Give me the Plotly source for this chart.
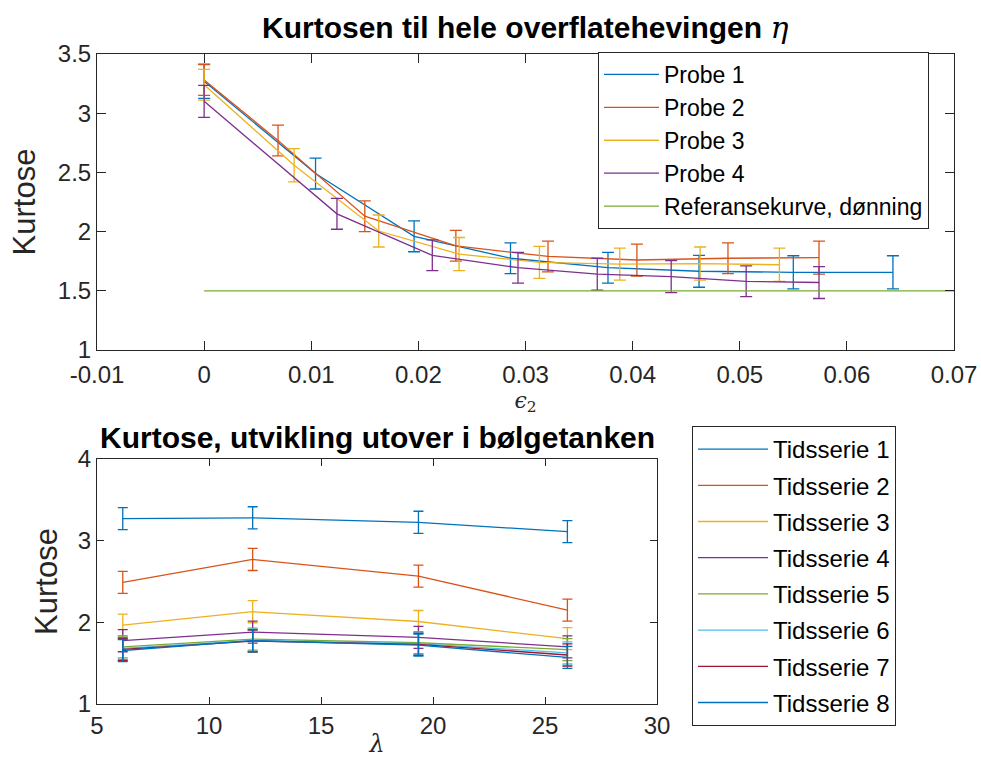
import plotly.graph_objects as go

# ---------------- Data: top panel (kurtosis vs epsilon_2) ----------------
probe_names = ["Probe 1", "Probe 2", "Probe 3", "Probe 4"]
probe1_x = [0, 0.0104, 0.0196, 0.0286, 0.0377, 0.0462, 0.0550, 0.0643]
probe1_y = [3.27, 2.49, 1.96, 1.775, 1.695, 1.665, 1.656, 1.656]
probe1_e = [0.145, 0.13, 0.13, 0.13, 0.13, 0.135, 0.14, 0.14]

probe2_x = [0, 0.0069, 0.0150, 0.0235, 0.0321, 0.0404, 0.0489, 0.0574]
probe2_y = [3.28, 2.77, 2.13, 1.88, 1.79, 1.76, 1.775, 1.78]
probe2_e = [0.13, 0.13, 0.13, 0.13, 0.13, 0.135, 0.13, 0.14]

probe3_x = [0, 0.0084, 0.0163, 0.0238, 0.0313, 0.0388, 0.0463, 0.0537]
probe3_y = [3.24, 2.56, 2.005, 1.81, 1.74, 1.725, 1.73, 1.72]
probe3_e = [0.13, 0.14, 0.135, 0.14, 0.135, 0.135, 0.14, 0.14]

probe4_x = [0, 0.0124, 0.0213, 0.0293, 0.0367, 0.0436, 0.0506, 0.0574]
probe4_y = [3.10, 2.15, 1.80, 1.695, 1.64, 1.62, 1.58, 1.57]
probe4_e = [0.135, 0.13, 0.13, 0.13, 0.135, 0.135, 0.13, 0.135]

ref_name = "Referansekurve, dønning"
ref_x = [0, 0.07]
ref_y = [1.5, 1.5]

top_xticks = [-0.01, 0, 0.01, 0.02, 0.03, 0.04, 0.05, 0.06, 0.07]
top_xticklabels = ["-0.01", "0", "0.01", "0.02", "0.03", "0.04", "0.05", "0.06", "0.07"]
top_yticks = [1, 1.5, 2, 2.5, 3, 3.5]
top_yticklabels = ["1", "1.5", "2", "2.5", "3", "3.5"]

# ---------------- Data: bottom panel (kurtosis vs lambda) ----------------
lam = [6.15, 11.95, 19.35, 26.0]
series_names = ["Tidsserie 1", "Tidsserie 2", "Tidsserie 3", "Tidsserie 4",
                "Tidsserie 5", "Tidsserie 6", "Tidsserie 7", "Tidsserie 8"]
ts1 = [3.27, 3.28, 3.225, 3.11]
ts2 = [2.49, 2.77, 2.565, 2.15]
ts3 = [1.965, 2.13, 2.01, 1.80]
ts4 = [1.775, 1.88, 1.815, 1.70]
ts5 = [1.70, 1.795, 1.75, 1.665]
ts6 = [1.68, 1.78, 1.74, 1.625]
ts7 = [1.67, 1.77, 1.73, 1.60]
ts8 = [1.655, 1.775, 1.72, 1.57]
ts_err = [0.135, 0.135, 0.135, 0.135]

bot_xticks = [5, 10, 15, 20, 25, 30]
bot_yticks = [1, 2, 3, 4]

# ---------------- Styling ----------------
mcolors = ["#0072BD", "#D95319", "#EDB120", "#7E2F8E", "#77AC30",
           "#4DBEEE", "#A2142F", "#0072BD"]
axis_col = "#262626"
FONT = "Liberation Sans, Arial, Helvetica, sans-serif"
W, H = 981, 758

fig = go.Figure()

probe_x = [probe1_x, probe2_x, probe3_x, probe4_x]
probe_y = [probe1_y, probe2_y, probe3_y, probe4_y]
probe_e = [probe1_e, probe2_e, probe3_e, probe4_e]
for i in range(4):
    fig.add_trace(go.Scatter(
        x=probe_x[i], y=probe_y[i], mode="lines", name=probe_names[i],
        line=dict(color=mcolors[i], width=1.3),
        error_y=dict(type="data", array=probe_e[i], visible=True,
                     color=mcolors[i], thickness=1.3, width=6),
        xaxis="x", yaxis="y", legend="legend", legendgroup=f"p{i}"))
fig.add_trace(go.Scatter(
    x=ref_x, y=ref_y, mode="lines", name=ref_name,
    line=dict(color=mcolors[4], width=1.3),
    xaxis="x", yaxis="y", legend="legend", legendgroup="ref"))

ts_all = [ts1, ts2, ts3, ts4, ts5, ts6, ts7, ts8]
for i in range(8):
    fig.add_trace(go.Scatter(
        x=lam, y=ts_all[i], mode="lines", name=series_names[i],
        line=dict(color=mcolors[i], width=1.3),
        error_y=dict(type="data", array=ts_err, visible=True,
                     color=mcolors[i], thickness=1.3, width=5),
        xaxis="x2", yaxis="y2", legend="legend2", legendgroup=f"t{i}"))

def px_x(p):
    return p / W

def px_y(p):
    return 1 - p / H

axis_common = dict(showline=True, linecolor=axis_col, linewidth=1, mirror="ticks",
                   ticks="inside", tickcolor=axis_col, showgrid=False, zeroline=False,
                   automargin=False,
                   tickfont=dict(family=FONT, size=24, color=axis_col))

fig.update_layout(
    width=W, height=H, autosize=False,
    margin=dict(l=0, r=0, t=0, b=0, autoexpand=False),
    paper_bgcolor="white", plot_bgcolor="white",
    font=dict(family=FONT, color=axis_col),
    xaxis=dict(domain=[px_x(97), px_x(954)], range=[-0.01, 0.07], anchor="y",
               tickvals=top_xticks, ticktext=top_xticklabels, ticklen=9,
               ticklabelstandoff=3,
               title=dict(text="<i>ϵ</i><sub>2</sub>", standoff=2,
                          font=dict(family="DejaVu Serif", size=22, color=axis_col)),
               **axis_common),
    yaxis=dict(domain=[px_y(350), px_y(54)], range=[1, 3.5], anchor="x",
               tickvals=top_yticks, ticktext=top_yticklabels, ticklen=9,
               title=dict(text="Kurtose", standoff=12,
                          font=dict(family=FONT, size=31, color=axis_col)),
               **axis_common),
    xaxis2=dict(domain=[px_x(97), px_x(657)], range=[5, 30], anchor="y2",
                tickvals=bot_xticks, ticklen=7,
                title=dict(text="<i>λ</i>", standoff=2,
                           font=dict(family="DejaVu Serif", size=24, color=axis_col)),
                **axis_common),
    yaxis2=dict(domain=[px_y(704), px_y(459)], range=[1, 4], anchor="x2",
                tickvals=bot_yticks, ticklen=7,
                title=dict(text="Kurtose", standoff=10,
                           font=dict(family=FONT, size=31, color=axis_col)),
                **axis_common),
    legend=dict(x=px_x(598), y=px_y(52), xanchor="left", yanchor="top",
                bgcolor="white", bordercolor=axis_col, borderwidth=1,
                font=dict(family=FONT, size=23, color="#000000"),
                traceorder="grouped", tracegroupgap=0, itemwidth=55),
    legend2=dict(x=px_x(692), y=px_y(426), xanchor="left", yanchor="top",
                 bgcolor="white", bordercolor=axis_col, borderwidth=1,
                 font=dict(family=FONT, size=24, color="#000000"),
                 traceorder="grouped", tracegroupgap=2, itemwidth=70),
    annotations=[
        dict(text="<b>Kurtosen til hele overflatehevingen</b> "
                  "<span style=\"font-family:'DejaVu Serif'\"><i>η</i></span>",
             x=px_x(525), y=px_y(28), xref="paper", yref="paper",
             xanchor="center", yanchor="middle", showarrow=False,
             font=dict(family=FONT, size=30, color="#000000")),
        dict(text="<b>Kurtose, utvikling utover i bølgetanken</b>",
             x=px_x(377), y=px_y(437), xref="paper", yref="paper",
             xanchor="center", yanchor="middle", showarrow=False,
             font=dict(family=FONT, size=30, color="#000000")),
    ],
)

fig.write_html("out.html")
